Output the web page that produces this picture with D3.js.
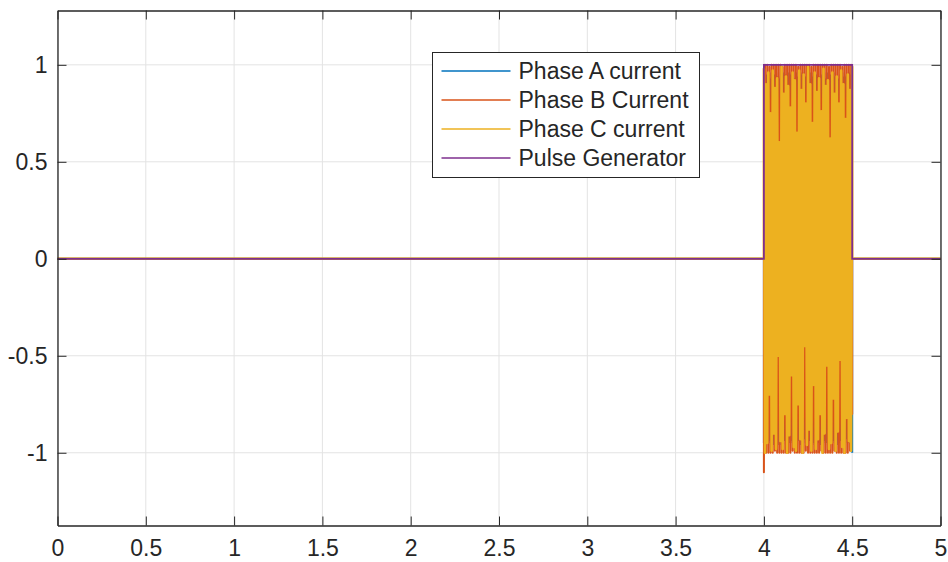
<!DOCTYPE html>
<html><head><meta charset="utf-8">
<script src="https://cdn.jsdelivr.net/npm/d3@7"></script>
<style>
body{margin:0;background:#fff}
svg{display:block}
text{font-family:"Liberation Sans",Arial,Helvetica,sans-serif;fill:#262626}
</style>
</head><body>
<svg id="chart" width="948" height="562"></svg>
<script>
// ---- data ----
const xTicks = [0, 0.5, 1, 1.5, 2, 2.5, 3, 3.5, 4, 4.5, 5];
const yTicks = [-1, -0.5, 0, 0.5, 1];
const xDomain = [0, 5];
const yDomain = [-1.375, 1.28];
const seriesNames = ["Phase A current", "Phase B Current", "Phase C current", "Pulse Generator"];
const seriesColors = ["#0072BD", "#D95319", "#EDB120", "#7E2F8E"];

// currents are zero outside the burst window
const idleTimes = [0, 4];
const idleValues = [0, 0];
const tailTimes = [4.5, 5];
const tailValues = [0, 0];

// burst window 4.0 .. 4.5 s, sampled values (81 samples)
const burstStart = 4.0;
const burstEnd = 4.5;
const phaseA = [
  -0.95, 0.94, -0.96, 0.95, -0.94, 0.96, -0.95, 0.93, -0.96, 0.95,
  -0.94, 0.96, -0.95, 0.94, -0.96, 0.93, -0.95, 0.96, -0.94, 0.95,
  -0.96, 0.94, -0.93, 0.96, -0.95, 0.95, -0.94, 0.93, -0.96, 0.96,
  -0.95, 0.94, -0.94, 0.95, -0.96, 0.96, -0.93, 0.94, -0.95, 0.95,
  -0.96, 0.93, -0.94, 0.96, -0.95, 0.94, -0.96, 0.95, -0.93, 0.96,
  -0.95, 0.94, -0.96, 0.95, -0.94, 0.93, -0.95, 0.96, -0.96, 0.94,
  -0.93, 0.95, -0.95, 0.96, -0.94, 0.94, -0.96, 0.93, -0.95, 0.95,
  -0.94, 0.96, -0.96, 0.94, -0.93, 0.95, -0.95, 0.96, -0.94, 0.95,
  -1.0
];
const phaseB = [
  -1.1, 1.0, -1.0, 1.0, -1.0, 0.99, -1.0, 1.0, -1.0, 1.0,
  -0.99, 1.0, -1.0, 1.0, -1.0, 1.0, -1.0, 0.99, -1.0, 1.0,
  -1.0, 1.0, -1.0, 1.0, -1.0, 1.0, -0.99, 1.0, -1.0, 1.0,
  -1.0, 0.99, -1.0, 1.0, -1.0, 1.0, -1.0, 1.0, -0.99, 1.0,
  -1.0, 1.0, -1.0, 0.99, -1.0, 1.0, -1.0, 1.0, -1.0, 1.0,
  -1.0, 1.0, -0.99, 1.0, -1.0, 1.0, -1.0, 1.0, -1.0, 0.99,
  -1.0, 1.0, -1.0, 1.0, -0.99, 1.0, -1.0, 1.0, -1.0, 1.0,
  -1.0, 0.99, -1.0, 1.0, -1.0, 1.0, -1.0, 1.0, -0.99, 1.0,
  -0.8
];
const phaseC = [
  0.98, -1.0, 0.9, -0.95, 0.96, -0.7, 0.75, -0.99, 0.97, -0.9,
  0.88, -0.98, 0.93, -0.5, 0.6, -0.94, 0.99, -0.98, 0.85, -0.8,
  0.94, -1.0, 0.89, -0.91, 0.78, -0.6, 0.96, -0.97, 0.92, -0.99,
  0.65, -0.75, 0.97, -0.93, 0.87, -1.0, 0.95, -0.45, 0.8, -0.96,
  0.99, -0.88, 0.9, -0.99, 0.7, -0.65, 0.96, -0.98, 0.86, -0.93,
  0.93, -0.8, 0.76, -1.0, 0.98, -0.9, 0.89, -0.55, 0.92, -0.98,
  0.62, -0.95, 0.96, -0.72, 0.85, -0.99, 0.94, -0.89, 0.8, -0.52,
  0.97, -0.97, 0.9, -1.0, 0.72, -0.82, 0.95, -0.94, 0.87, -0.99,
  0.99
];
const pulseTimes = [0, 4, 4, 4.5, 4.5, 5];
const pulseValues = [0, 0, 1, 1, 0, 0];

// ---- layout ----
const svg = d3.select("#chart");
const plot = {left: 57.5, top: 10.5, right: 940.5, bottom: 525.5};
const x = d3.scaleLinear().domain(xDomain).range([plot.left, plot.right]);
const y = d3.scaleLinear().domain(yDomain).range([plot.bottom, plot.top]);
const axisColor = "#262626";
const fontSize = 23;

// grid
const grid = svg.append("g");
grid.selectAll("line.gx").data(xTicks).join("line")
  .attr("x1", d => x(d)).attr("x2", d => x(d))
  .attr("y1", plot.top).attr("y2", plot.bottom)
  .attr("stroke", "#e3e3e3").attr("stroke-width", 1);
grid.selectAll("line.gy").data(yTicks).join("line")
  .attr("x1", plot.left).attr("x2", plot.right)
  .attr("y1", d => y(d)).attr("y2", d => y(d))
  .attr("stroke", "#e3e3e3").attr("stroke-width", 1);

// series
function burstSeries(vals) {
  const n = vals.length - 1;
  const pts = idleTimes.map((t, i) => [t, idleValues[i]]);
  vals.forEach((v, i) => pts.push([burstStart + (burstEnd - burstStart) * i / n, v]));
  tailTimes.forEach((t, i) => pts.push([t, tailValues[i]]));
  return pts;
}
const line = d3.line().x(d => x(d[0])).y(d => y(d[1]));
const dataG = svg.append("g");
const widths = [2.0, 2.0, 2.6];
const joins = ["bevel", "round", "round"];
[phaseA, phaseB, phaseC].forEach((vals, k) => {
  dataG.append("path").attr("d", line(burstSeries(vals)))
    .attr("fill", "none").attr("stroke", seriesColors[k])
    .attr("stroke-width", widths[k]).attr("stroke-linejoin", joins[k]);
});
dataG.append("path")
  .attr("d", line(pulseTimes.map((t, i) => [t, pulseValues[i]])))
  .attr("fill", "none").attr("stroke", seriesColors[3]).attr("stroke-width", 1.8);

// axes (box with inward ticks on all sides)
const tickLen = 9;
const axG = svg.append("g");
const axB = d3.axisBottom(x).tickValues(xTicks).tickSizeInner(-tickLen).tickSizeOuter(0).tickPadding(14).tickFormat(d => String(d));
const axT = d3.axisTop(x).tickValues(xTicks).tickSizeInner(-tickLen).tickSizeOuter(0).tickFormat("");
const axL = d3.axisLeft(y).tickValues(yTicks).tickSizeInner(-tickLen).tickSizeOuter(0).tickPadding(10).tickFormat(d => String(d));
const axR = d3.axisRight(y).tickValues(yTicks).tickSizeInner(-tickLen).tickSizeOuter(0).tickFormat("");
axG.append("g").attr("transform", `translate(0,${plot.bottom})`).call(axB);
axG.append("g").attr("transform", `translate(0,${plot.top})`).call(axT);
axG.append("g").attr("transform", `translate(${plot.left},0)`).call(axL);
axG.append("g").attr("transform", `translate(${plot.right},0)`).call(axR);
axG.selectAll(".domain").attr("stroke", axisColor).attr("stroke-width", 1.3);
axG.selectAll(".tick line").attr("stroke", axisColor).attr("stroke-width", 1);
axG.selectAll(".tick text").attr("fill", axisColor).style("font-size", fontSize + "px")
  .style("font-family", '"Liberation Sans", Arial, sans-serif');

// legend
const leg = {x: 432.5, y: 52.5, w: 267, h: 125};
const legG = svg.append("g");
legG.append("rect").attr("x", leg.x).attr("y", leg.y).attr("width", leg.w).attr("height", leg.h)
  .attr("fill", "#fff").attr("stroke", axisColor).attr("stroke-width", 1);
seriesNames.forEach((name, i) => {
  const cy = leg.y + 18.5 + i * 29;
  legG.append("line").attr("x1", leg.x + 9).attr("x2", leg.x + 78)
    .attr("y1", cy).attr("y2", cy).attr("stroke", seriesColors[i]).attr("stroke-width", 1.5);
  legG.append("text").attr("x", leg.x + 86).attr("y", cy + 8)
    .style("font-size", fontSize + "px").text(name);
});
</script>
</body></html>
